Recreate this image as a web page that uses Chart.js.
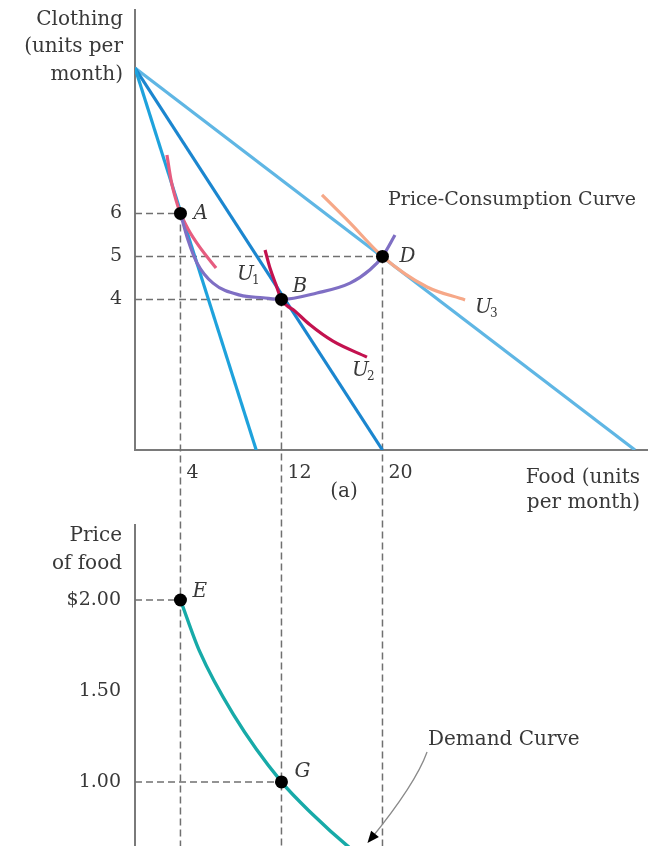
<!DOCTYPE html>
<html><head><meta charset="utf-8">
<script src="https://cdn.jsdelivr.net/npm/chart.js@4.4.1/dist/chart.umd.min.js"></script>
<style>
html,body{margin:0;padding:0;background:#fff;}
#wrap{position:relative;width:653px;height:846px;overflow:hidden;background:#fff;}
canvas{position:absolute;left:0;top:0;}
</style></head><body>
<div id="wrap"><canvas id="topChart" width="653" height="846"></canvas><canvas id="bottomChart" width="653" height="846"></canvas></div>
<script>
// ---------- data ----------
const foodTicks = [4, 12, 20];
const clothingTicks = [4, 5, 6];
const priceTicks = [1.00, 1.50, 2.00];
const priceTickLabels = ['1.00', '1.50', '$2.00'];

const clothingIntercept = 9.38;          // where all budget lines meet the clothing axis
const axisFood = 0.4;                    // food value at the clothing axis
const axisClothing = 0.5;                // clothing value at the food axis
const budgetFoodIntercepts = [10, 20, 40];

const u1Food     = [2.93, 3.25, 3.65, 4.00, 4.60, 5.47, 6.82];
const u1Clothing = [7.36, 6.78, 6.31, 6.00, 5.64, 5.24, 4.73];
const u2Food     = [10.70, 11.09, 11.57, 12.00, 13.07, 14.26, 16.08, 18.77];
const u2Clothing = [5.15, 4.73, 4.34, 4.00, 3.73, 3.41, 3.03, 2.66];
const u3Food     = [15.21, 17.43, 20.00, 23.53, 26.54];
const u3Clothing = [6.43, 5.78, 5.00, 4.29, 3.99];
const pccFood     = [4.00, 4.60, 5.31, 6.58, 8.72, 10.54, 12.00, 14.81, 17.43, 19.01, 20.00, 20.99];
const pccClothing = [6.00, 5.38, 4.85, 4.38, 4.10, 4.04, 4.00, 4.15, 4.38, 4.69, 5.00, 5.50];

const choiceNames = ['A', 'B', 'D'];
const choiceFood = [4, 12, 20];
const choiceClothing = [6, 4, 5];

const demandFood  = [4.0, 5.5, 8.2, 12.0, 14.5, 17.2, 20.0];
const demandPrice = [2.00, 1.72, 1.37, 1.00, 0.82, 0.65, 0.50];
const demandNames = ['E', 'G'];
const demandPointFood = [4, 12];
const demandPointPrice = [2.00, 1.00];

// ---------- styles ----------
const FONT = '"DejaVu Serif", serif';
const TEXT = '#383838';
const AXIS = '#7a7a7a';
const DASH = '#707070';
const pts = (xs, ys) => xs.map((x, i) => ({x: x, y: ys[i]}));

function txt(ctx, s, x, y, font, align) {
  ctx.save();
  ctx.font = font; ctx.textAlign = align || 'left'; ctx.textBaseline = 'middle';
  ctx.fillStyle = TEXT; ctx.fillText(s, x, y); ctx.restore();
}
function subLabel(ctx, main, sub, x, y) {
  ctx.save();
  ctx.font = 'italic 20px ' + FONT; ctx.textBaseline = 'middle'; ctx.textAlign = 'left';
  ctx.fillStyle = TEXT; ctx.fillText(main, x, y);
  const w = ctx.measureText(main).width;
  ctx.font = '12px ' + FONT; ctx.fillText(sub, x + w - 2, y + 6);
  ctx.restore();
}
function dashed(ctx, x1, y1, x2, y2) {
  ctx.save(); ctx.strokeStyle = DASH; ctx.lineWidth = 1.5; ctx.setLineDash([7, 4]);
  ctx.beginPath(); ctx.moveTo(x1, y1); ctx.lineTo(x2, y2); ctx.stroke(); ctx.restore();
}
function noPad(s) { s.paddingTop = 0; s.paddingBottom = 0; s.paddingLeft = 0; s.paddingRight = 0; }

const xScale = {
  type: 'linear', min: axisFood, max: 40.95,
  grid: {display: false, drawTicks: false},
  border: {display: true, color: AXIS, width: 2},
  afterFit: s => { s.height = 40; noPad(s); },
  afterBuildTicks: s => { s.ticks = foodTicks.map(v => ({value: v})); },
  ticks: {align: 'start', autoSkip: false, maxRotation: 0, padding: 12, color: TEXT,
          font: {family: FONT, size: 19}, callback: v => ' ' + v}
};

// ---------- top chart ----------
const topPlugin = {
  id: 'topDecor',
  beforeDatasetsDraw(chart) {
    const {ctx, chartArea: ca, scales: {x, y}} = chart;
    const H = chart.height;
    choiceFood.forEach((f, i) => {
      const px = x.getPixelForValue(f), py = y.getPixelForValue(choiceClothing[i]);
      dashed(ctx, ca.left, py, px, py);
      dashed(ctx, px, py, px, H);
    });
  },
  afterDraw(chart) {
    const {ctx, chartArea: ca, scales: {x, y}} = chart;
    const f = '20px ' + FONT, fi = 'italic 20px ' + FONT;
    txt(ctx, 'Clothing', ca.left - 12, ca.top + 10, f, 'right');
    txt(ctx, '(units per', ca.left - 12, ca.top + 37, f, 'right');
    txt(ctx, 'month)', ca.left - 12, ca.top + 65, f, 'right');
    txt(ctx, 'Food (units', ca.right - 7, ca.bottom + 28, f, 'right');
    txt(ctx, 'per month)', ca.right - 7, ca.bottom + 53, f, 'right');
    txt(ctx, '(a)', x.getPixelForValue(16.95), ca.bottom + 42, f, 'center');
    txt(ctx, 'Price-Consumption Curve', x.getPixelForValue(20.44), y.getPixelForValue(6.31), '19px ' + FONT, 'left');
    const offs = [[13, 0], [11, -13], [17, 0]];
    choiceNames.forEach((n, i) => {
      txt(ctx, n, x.getPixelForValue(choiceFood[i]) + offs[i][0], y.getPixelForValue(choiceClothing[i]) + offs[i][1], fi, 'left');
    });
    subLabel(ctx, 'U', '1', x.getPixelForValue(8.48), y.getPixelForValue(4.57));
    subLabel(ctx, 'U', '2', x.getPixelForValue(17.59), y.getPixelForValue(2.34));
    subLabel(ctx, 'U', '3', x.getPixelForValue(27.33), y.getPixelForValue(3.80));
  }
};

const curve = (label, data, color, w) => ({
  type: 'line', label, data, borderColor: color, borderWidth: w || 3.2,
  pointRadius: 0, fill: false, cubicInterpolationMode: 'monotone'
});
const budget = (i, color) => ({
  type: 'line', label: 'Budget ' + (i + 1),
  data: [{x: axisFood, y: clothingIntercept}, {x: budgetFoodIntercepts[i], y: axisClothing}],
  borderColor: color, borderWidth: 3.2, pointRadius: 0, fill: false, tension: 0
});

new Chart(document.getElementById('topChart'), {
  type: 'scatter',
  data: {
    datasets: [
      {type: 'scatter', label: 'Choices', data: pts(choiceFood, choiceClothing),
       pointRadius: 6.5, pointBackgroundColor: '#000', pointBorderWidth: 0, showLine: false},
      curve('Price-Consumption Curve', pts(pccFood, pccClothing), '#7f6fc4'),
      curve('U1', pts(u1Food, u1Clothing), '#e65d80'),
      curve('U2', pts(u2Food, u2Clothing), '#c3124f'),
      curve('U3', pts(u3Food, u3Clothing), '#f6a888'),
      budget(0, '#1ea2dc'),
      budget(1, '#1b86cf'),
      budget(2, '#5fb6e4')
    ]
  },
  options: {
    responsive: false, animation: false, devicePixelRatio: 1,
    layout: {autoPadding: false, padding: {left: 60, right: 6, top: 10, bottom: 356}},
    plugins: {legend: {display: false}, tooltip: {enabled: false}},
    scales: {
      x: xScale,
      y: {
        type: 'linear', min: axisClothing, max: 10.73,
        grid: {display: false, drawTicks: false},
        border: {display: true, color: AXIS, width: 2},
        afterFit: s => { s.width = 75; noPad(s); },
        afterBuildTicks: s => { s.ticks = clothingTicks.map(v => ({value: v})); },
        ticks: {padding: 13, color: TEXT, font: {family: FONT, size: 19}}
      }
    }
  },
  plugins: [topPlugin]
});

// ---------- bottom chart ----------
const bottomPlugin = {
  id: 'bottomDecor',
  beforeDatasetsDraw(chart) {
    const {ctx, chartArea: ca, scales: {x, y}} = chart;
    demandPointFood.forEach((f, i) => {
      const px = x.getPixelForValue(f), py = y.getPixelForValue(demandPointPrice[i]);
      dashed(ctx, ca.left, py, px, py);
    });
  },
  afterDraw(chart) {
    const {ctx, chartArea: ca, scales: {x, y}} = chart;
    const f = '20px ' + FONT, fi = 'italic 20px ' + FONT;
    txt(ctx, 'Price', ca.left - 13, ca.top + 11, f, 'right');
    txt(ctx, 'of food', ca.left - 13, ca.top + 39, f, 'right');
    const offs = [[12, -8], [13, -10]];
    demandNames.forEach((n, i) => {
      txt(ctx, n, x.getPixelForValue(demandPointFood[i]) + offs[i][0], y.getPixelForValue(demandPointPrice[i]) + offs[i][1], fi, 'left');
    });
    txt(ctx, 'Demand Curve', x.getPixelForValue(23.6), y.getPixelForValue(1.23), f, 'left');
    // leader line
    const sx = x.getPixelForValue(23.53), sy = y.getPixelForValue(1.165);
    const cx = x.getPixelForValue(22.62), cy = y.getPixelForValue(0.989);
    const ex = x.getPixelForValue(19.01), ey = y.getPixelForValue(0.681);
    ctx.save();
    ctx.strokeStyle = '#8a8a8a'; ctx.lineWidth = 1.3;
    ctx.beginPath(); ctx.moveTo(sx, sy); ctx.quadraticCurveTo(cx, cy, ex, ey); ctx.stroke();
    const ang = Math.atan2(ey - cy, ex - cx);
    ctx.fillStyle = '#000';
    ctx.beginPath();
    ctx.moveTo(ex + 4 * Math.cos(ang), ey + 4 * Math.sin(ang));
    ctx.lineTo(ex - 8 * Math.cos(ang) + 5 * Math.sin(ang), ey - 8 * Math.sin(ang) - 5 * Math.cos(ang));
    ctx.lineTo(ex - 8 * Math.cos(ang) - 5 * Math.sin(ang), ey - 8 * Math.sin(ang) + 5 * Math.cos(ang));
    ctx.closePath(); ctx.fill();
    ctx.restore();
  }
};

new Chart(document.getElementById('bottomChart'), {
  type: 'scatter',
  data: {
    datasets: [
      {type: 'scatter', label: 'Points', data: pts(demandPointFood, demandPointPrice),
       pointRadius: 6.5, pointBackgroundColor: '#000', pointBorderWidth: 0, showLine: false},
      curve('Demand Curve', pts(demandFood, demandPrice), '#17aaa8', 3.4)
    ]
  },
  options: {
    responsive: false, animation: false, devicePixelRatio: 1,
    layout: {autoPadding: false, padding: {left: 60, right: 6, top: 525, bottom: 0}},
    plugins: {legend: {display: false}, tooltip: {enabled: false}},
    scales: {
      x: Object.assign({}, xScale, {display: false, afterFit: s => { s.height = 0; noPad(s); }}),
      y: {
        type: 'linear', min: 0.648, max: 2.412,
        grid: {display: false, drawTicks: false},
        border: {display: true, color: AXIS, width: 2},
        afterFit: s => { s.width = 75; noPad(s); },
        afterBuildTicks: s => { s.ticks = priceTicks.map(v => ({value: v})); },
        ticks: {padding: 14, color: TEXT, font: {family: FONT, size: 19},
                callback: (v) => priceTickLabels[priceTicks.indexOf(v)]}
      }
    }
  },
  plugins: [bottomPlugin]
});
</script>
</body></html>
